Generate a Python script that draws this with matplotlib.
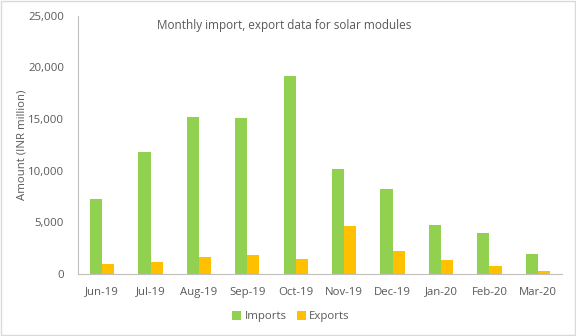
import matplotlib
matplotlib.use("Agg")
import matplotlib.pyplot as plt
import numpy as np
from matplotlib.patches import Rectangle
from matplotlib.ticker import FuncFormatter

months = ["Jun-19", "Jul-19", "Aug-19", "Sep-19", "Oct-19",
          "Nov-19", "Dec-19", "Jan-20", "Feb-20", "Mar-20"]
imports = [7250, 11800, 15200, 15100, 19200, 10150, 8250, 4750, 3950, 1950]
exports = [1000, 1150, 1650, 1850, 1450, 4650, 2250, 1350, 800, 300]

plt.rcParams['font.family'] = ['Open Sans', 'DejaVu Sans']
text_color = "#595959"
green = "#92D050"
yellow = "#FFC000"
fs = 8.2

fig = plt.figure(figsize=(5.76, 3.36), dpi=100)
ax = fig.add_axes([0.1354, 0.1845, 0.8403, 0.7685])

x = np.arange(len(months))
w = 0.25
ax.bar(x - w / 2, imports, width=w, color=green, label="Imports")
ax.bar(x + w / 2, exports, width=w, color=yellow, label="Exports")

ax.set_xlim(-0.5, len(months) - 0.5)
ax.set_ylim(0, 25000)
ax.set_yticks(np.arange(0, 25001, 5000))
ax.yaxis.set_major_formatter(FuncFormatter(lambda v, p: f"{int(v):,}"))
ax.set_xticks(x)
ax.set_xticklabels(months)
ax.tick_params(axis="both", length=0, labelsize=fs, colors=text_color)
ax.tick_params(axis="x", pad=9)
ax.tick_params(axis="y", pad=10)

for s in ["top", "right"]:
    ax.spines[s].set_visible(False)
for s in ["left", "bottom"]:
    ax.spines[s].set_color("#BFBFBF")
    ax.spines[s].set_linewidth(0.8)

ax.set_ylabel("Amount (INR million)", fontsize=fs, color=text_color)
ax.yaxis.set_label_coords(-0.105, 0.5)

fig.text(0.494, 0.925, "Monthly import, export data for solar modules",
         ha="center", va="center", fontsize=fs + 0.3, color=text_color)

leg = fig.legend(loc="center", bbox_to_anchor=(0.505, 0.058), ncol=2, frameon=False,
                 fontsize=fs, handlelength=0.8, handleheight=0.8,
                 handletextpad=0.3, columnspacing=0.9)
for t in leg.get_texts():
    t.set_color(text_color)

fig.patches.append(Rectangle((0.001, 0.002), 0.997, 0.995, transform=fig.transFigure,
                             fill=False, edgecolor="#D9D9D9", linewidth=1.0))

fig.savefig("out.png", dpi=100)
